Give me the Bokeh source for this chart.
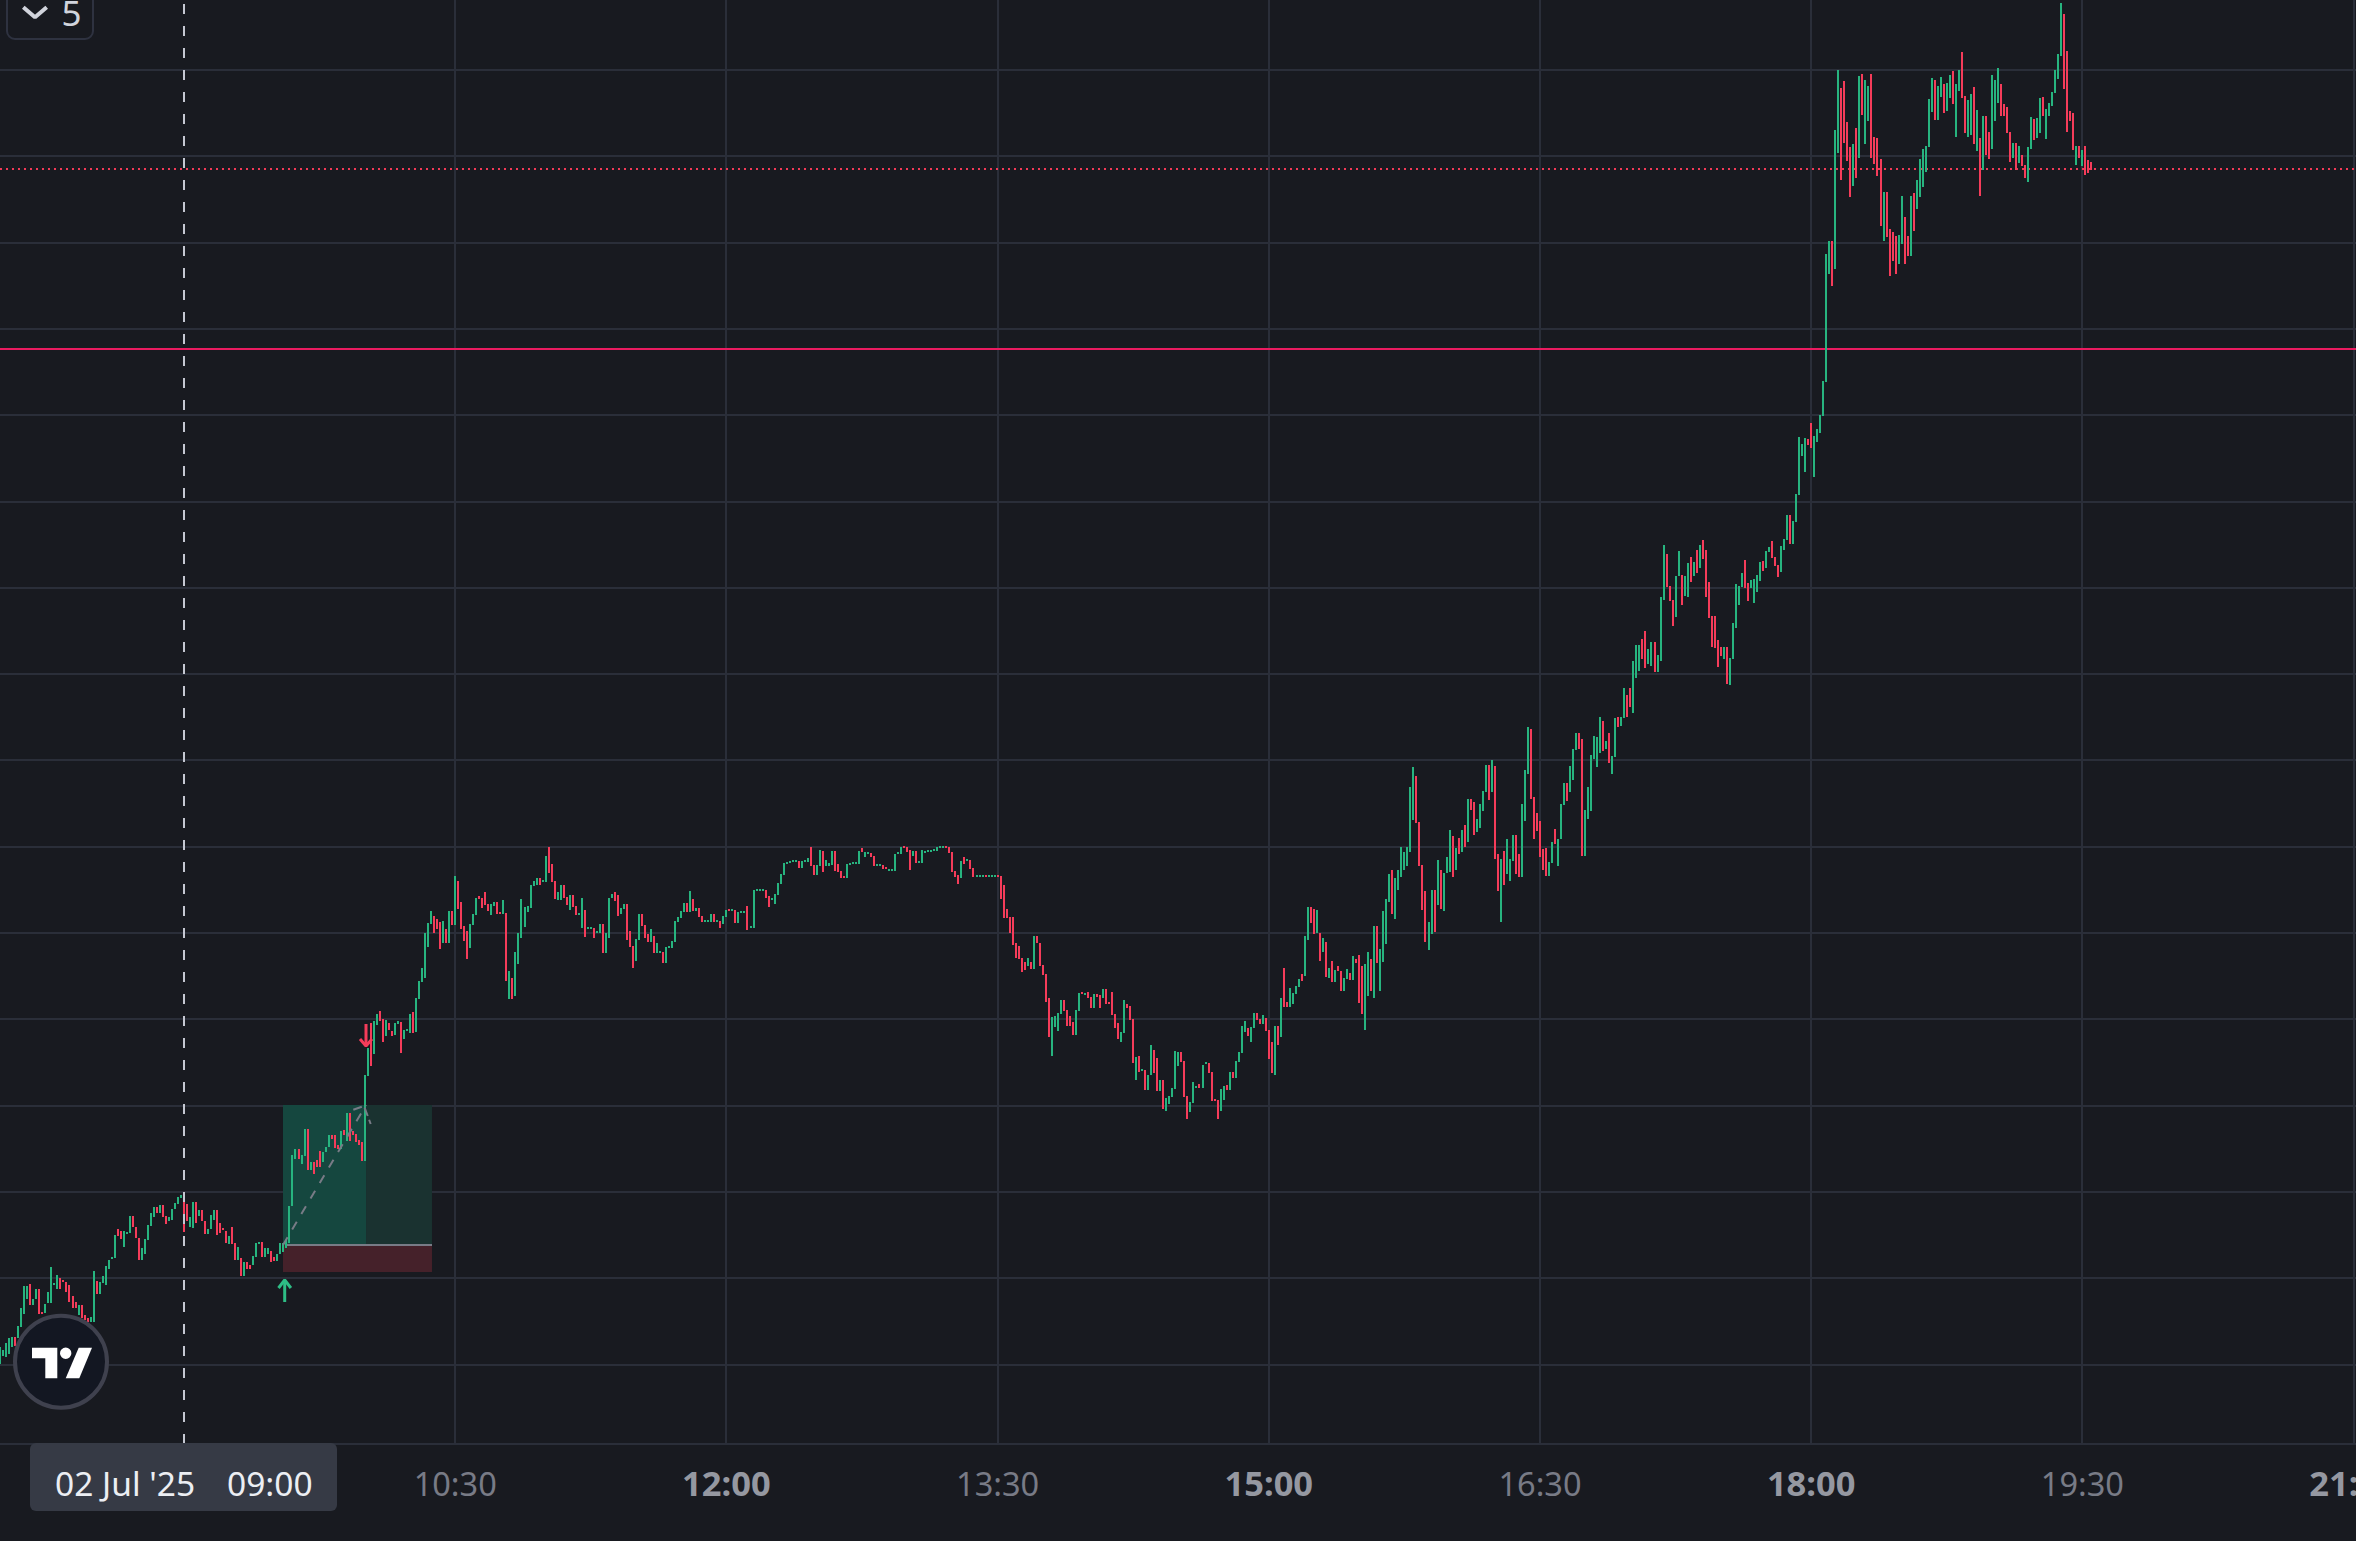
from bokeh.plotting import figure
from bokeh.models import LinearAxis, FixedTicker, Range1d, ColumnDataSource
from bokeh.core.properties import value
from bokeh.embed import file_html
from bokeh.resources import INLINE

# One bar per minute, (open, close), first bar at 07:59, on the chart's own price scale
first_minute = 479
bars_early = [(81,98),(89,95),(88,102),(91,107),(98,108),(108,99),(107,119),(118,137),(131,159),(146,159),
(161,140),(140,146),(146,156),(156,131),(133,131),(132,141),(142,153),(142,178),(160,162),(156,170),
(167,156),(165,163),(163,153),(160,143),(149,137),(143,137),(130,140),(140,127),(130,125),(127,123),
(123,128),(123,174),(164,151),(151,163),(162,169),(160,179),(176,185)]
bars_morning = [(185.5,188),(187,210),(215.6,208.7),(214,206),(198,214),(211,213),(212,229),(229,218),(218,207),(207,185),
(185,197),(191,206),(205,220),(219,232),(228,238),(238,232),(232,240),(240,228),(229,221),(224,228),
(225,236),(236,242),(241,248),(247,250),(249,213),(241,224),(218,228),(217,243),(243,222),(229,235),
(235,224),(224,211),(211,216),(216,230),(225,235),(235,210),(222,212),(217,215),(214,202),(201,209),
(218,201),(202,185),(185,198),(187,169),(169,183),(183,176),(180,176),(180,189),(188,202),(201,203),
(203,188),(188,197),(191,197),(194,183),(188,184),(184,191),(191,202),(193,202),(197,205),(202,239),
(239,290),(286,296),(296,286),(281,290),(289,316),(316,275),(275,283),(283,271),(285,278),(294,278),
(283,293),(293,298),(298,310),(310,306),(310,297),(300,296),(296,314),(315,310),(304,332),(332,304),
(314,310),(311,303),(305,300),(303,284),(284,370),(369,397),(422,379),(391,424),(420,431),(434,424),
(426,403),(409,425),(422,415),(414,409),(410,422),(421,424)]
bars_midday = [(423,392),(406,415),(414,416),(412,431),(433,412),(413,447),(446,464),(463,477),(467,512),(498,522),
(521,534),(529,512),(526,516),(523,496),(502,524),(516,502),(502,534),(534,520),(520,569),(564,536),
(543,516),(519,504),(514,486),(497,521),(520,531),(530,547),(549,546),(547,537),(553,540),(541,534),
(530,541),(539,543),(543,531),(533,531),(531,545),(532,464),(446,474),(467,446),(449,493),(481,512),
(507,546),(518,538),(533,539),(537,560),(559,564),(560,567),(567,560),(563,565),(563,589),(598,572),
(581,563),(564,546),(545,553),(545,560),(560,547),(548,540),(535,550),(550,538),(539,530),(530,532),
(517,547),(535,508),(516,518),(516,518),(517,507),(512,514),(512,521),(521,492),(492,512),(507,547),
(547,551),(553,544),(550,529),(531,537),(536,541),(541,505),(514,498),(499,477),(484,506),(505,531),
(531,519),(520,507),(511,503),(503,516),(509,492),(492,502),(492,494),(493,482),(482,498),(497,499),
(497,504),(503,524),(523,528),(527,534),(533,542),(542,533),(533,554),(546,534),(534,537),(537,528),
(529,523),(523,525),(523,525),(523,531),(531,523),(523,525),(524,517),(521,529),(528,535),(536,534),
(534,536),(535,522),(522,533),(532,534),(532,534),(539,515),(517,519),(517,555),(554,556),(554,556),
(554,556),(555,547),(549,538),(545,547),(541,551),(550,562),(561,571),(570,582),(581,583),(582,584),
(583,585),(583,585),(584,577),(577,584),(583,585),(583,587),(598,579),(580,570),(570,580),(579,595),
(594,573),(579,585),(579,582),(580,594),(594,574),(581,573),(574,567),(569,567),(567,581),(580,582),
(581,583),(581,583),(581,594),(597,593),(588,593),(591,593),(592,588),(589,579),(579,581),(579,581),
(580,576),(578,576),(574,576),(574,576),(574,591),(591,593),(591,598),(599,597),(598,593),(595,575),
(589,594),(594,582),(582,584),(582,595),(592,594),(593,595),(593,595),(594,596),(594,598),(597,599),
(597,599),(599,597),(598,592),(593,573),(574,568),(570,561),(567,584),(588,581),(584,586),(585,576),
(577,568),(568,570),(568,570),(568,570),(570,568),(568,570),(568,570),(568,570),(570,568)]
bars_afternoon = [(569,546),(560,527),(536,527),(528,512),(528,500),(502,487),(499,486),(487,473),(483,475),(479,487),
(483,476),(476,509),(509,502),(502,479),(480,470),(471,443),(447,408),(389,428),(418,429),(414,432),
(431,445),(445,434),(435,419),(429,419),(423,410),(410,435),(434,452),(453,451),(450,452),(453,447),
(448,437),(437,451),(451,448),(450,437),(447,456),(456,441),(443,441),(453,430),(431,417),(422,406),
(403,413),(412,445),(441,437),(439,425),(426,382),(365,388),(389,373),(374,376),(375,355),(355,370),
(370,400),(395,372),(387,354),(354,365),(365,336),(334,347),(341,349),(348,357),(356,394),(379,393),
(393,383),(384,348),(349,326),(333,343),(342,363),(357,359),(361,357),(357,380),(381,383),(382,372),
(373,344),(346,344),(345,326),(334,356),(345,359),(360,355),(355,373),(373,367),(367,384),(383,393),
(392,419),(413,424),(417,409),(403,418),(417,432),(432,425),(426,421),(421,430),(427,414),(415,386),
(403,372),(370,419),(419,400),(408,447),(477,438),(443,438),(438,457),(441,452),(451,459),(458,466),
(471,464),(469,509),(505,538),(538,522),(536,511),(512,535),(512,484),(493,507),(503,468),(467,477),
(484,463),(463,475),(479,474),(474,454),(454,467),(466,476),(472,465),(465,489),(486,482),(490,442),
(479,431),(415,481),(449,493),(486,454),(447,519),(519,482),(454,496),(483,534),(501,546),(543,571),
(575,531),(526,567),(555,575),(568,598),(575,593),(579,598)]
bars_rally = [(593,658),(625,678),(669,622),(623,579),(580,535),(554,503),(495,523),(511,555),(555,513),(540,585),
(575,536),(534,572),(572,588),(573,615),(609,568),(575,597),(607,591),(593,615),(620,598),(603,646),
(646,635),(643,610),(613,626),(617,641),(634,654),(653,680),(680,645),(653,685),(679,586),(591,554),
(523,586),(594,560),(571,606),(564,586),(584,610),(610,571),(591,568),(568,641),(624,675),(671,718),
(716,646),(648,606),(632,614),(624,588),(596,575),(597,569),(569,583),(582,603),(616,601),(579,606),
(606,641),(640,662),(662,644),(653,679),(665,696),(695,712),(712,696),(706,589),(589,635),(626,658),
(634,690),(686,709),(678,708),(692,728),(724,694),(696,704),(712,682),(671,689),(688,727),(728,718),
(719,728),(727,757),(750,728),(757,738),(732,784),(767,800),(774,800),(806,786),(814,777),(781,796),
(779,803),(803,773),(773,790),(784,848),(845,900),(891,858),(859,844),(845,819),(828,869),(869,894),
(870,840),(849,869),(848,882),(888,863),(869,883),(895,872),(877,900),(905,886),(895,848),(863,827),
(829,798),(829,797),(805,778),(798,789),(786,798),(798,761),(760,787),(786,822),(817,861),(840,859),
(858,872),(885,857),(862,844),(857,865),(842,866),(853,870),(864,883),(884,874),(877,894),(893,898),
(904,887),(888,879),(880,868),(873,899),(895,906),(905,930),(930,901),(901,924),
(923,951),(950,1008),(989,1001),(973,1007),(1006,1000),(1022,997),(968,1009),(1003,1016),(1012,1030),(1029,1064)]
bars_close = [(1063,1191),(1171,1204),(1204,1159),(1176,1315),(1292,1375),(1357,1265),(1364,1302),(1323,1284),(1298,1248),(1259,1301),
(1317,1267),(1287,1369),(1371,1330),(1301,1365),(1324,1359),(1371,1287),(1308,1281),(1307,1269),(1286,1219),(1204,1253),
(1253,1208),(1216,1169),(1213,1184),(1209,1171),(1181,1210),(1201,1249),(1228,1181),(1209,1189),(1189,1249),(1252,1214),
(1236,1265),(1248,1286),(1258,1296),(1273,1299),(1298,1346),(1333,1367),(1365,1325),(1325,1359),(1348,1368),(1361,1332),
(1334,1362),(1347,1370),(1374,1341),(1308,1361),(1354,1375),(1393,1347),(1349,1312),(1308,1345),(1310,1351),(1358,1301),
(1294,1335),(1307,1249),(1275,1329),(1329,1290),(1313,1286),(1296,1370),(1324,1365),(1342,1377),(1361,1329),(1341,1329),
(1338,1312),(1313,1283),(1287,1302),(1302,1275),(1282,1299),(1290,1279),(1280,1267),(1263,1298),(1296,1328),(1326,1305),
(1307,1327),(1312,1347),(1348,1329),(1306,1336),(1329,1342),(1339,1353),(1352,1375),(1366,1391),(1389,1442),(1431,1356),
(1394,1313),(1334,1324),(1332,1295),(1280,1299),(1299,1287),(1279,1295),(1299,1270),(1285,1272),(1283,1275)]

regular_ticks = [630, 810, 990, 1170]
regular_labels = ["10:30", "13:30", "16:30", "19:30"]
bold_ticks = [720, 900, 1080]
bold_labels = ["12:00", "15:00", "18:00"]
clipped_tick = 1260
clipped_label = "21:00"
price_grid = [80, 167, 253, 339, 426, 512, 598, 685, 771, 857, 943, 1030, 1116, 1202, 1289, 1375]

resistance_level = 1276
support_level = 1096
crosshair_minute = 540
trade_start, trade_now, trade_end = 572.85, 600.4, 622.3
trade_target, trade_entry, trade_stop = 340, 200, 173

BG = "#181a20"
GRID = "#2a2e39"
UP = "#27b47f"
DOWN = "#f53c5a"
W, H = 2356, 1541
AXIS_H = 96
PX_PER_MIN = 3.01333
x0 = crosshair_minute - 184 / PX_PER_MIN
x1 = x0 + W / PX_PER_MIN
top = H - AXIS_H

def fx(px):
    return x0 + px / PX_PER_MIN
def fy(py):
    return top - py
def snap(minute):
    return fx(round((minute - x0) * PX_PER_MIN))

all_bars = bars_early + bars_morning + bars_midday + bars_afternoon + bars_rally + bars_close
opens = [b[0] for b in all_bars]
closes = [b[1] for b in all_bars]
minutes = [first_minute + i for i in range(len(all_bars))]
assert len(all_bars) == 695, len(all_bars)

# canvas overhangs the page by 1px, and ranges absorb the half-pixel translate of the svg backend
p = figure(width=W + 1, height=H + 1, output_backend="svg", toolbar_location=None,
           x_range=Range1d(x0 - 0.5 / PX_PER_MIN, x1 + 0.5 / PX_PER_MIN), y_range=Range1d(-AXIS_H - 0.5, top + 0.5),
           x_axis_type=None, y_axis_type=None,
           min_border=0, min_border_left=0, min_border_right=0, min_border_top=0, min_border_bottom=0,
           background_fill_color=BG, border_fill_color=BG, outline_line_color=None)
p.styles = {"position": "absolute", "left": "-1px", "top": "-1px"}

ticks_all = regular_ticks + bold_ticks + [clipped_tick]
grid_x = [snap(t) for t in ticks_all]
# grid
p.segment(x0=grid_x, x1=grid_x, y0=[1] * len(grid_x), y1=[top + 1] * len(grid_x), line_color=GRID, line_width=2)
p.segment(x0=[x0] * len(price_grid), x1=[x1] * len(price_grid), y0=price_grid, y1=price_grid, line_color=GRID, line_width=2)
p.segment(x0=[x0], x1=[x1], y0=[1], y1=[1], line_color=GRID, line_width=2)

# position tool
p.quad(left=[trade_start], right=[trade_now], bottom=[trade_entry], top=[trade_target], fill_color="#15473f", line_color=None)
p.quad(left=[trade_now], right=[trade_end], bottom=[trade_entry], top=[trade_target], fill_color="#1a3230", line_color=None)
p.quad(left=[trade_start], right=[trade_end], bottom=[trade_stop], top=[trade_entry], fill_color="#45212a", line_color=None)
p.segment(x0=[trade_start + 1], x1=[trade_end], y0=[trade_entry], y1=[trade_entry], line_color="#787b86", line_width=2)

# levels
p.segment(x0=[x0], x1=[x1], y0=[resistance_level], y1=[resistance_level], line_color="#f23a57", line_width=2, line_dash="2 4")
p.segment(x0=[x0], x1=[x1], y0=[support_level], y1=[support_level], line_color="#ea1b60", line_width=2)

# candles, each snapped to a whole device pixel like the original canvas
bar_x = [snap(m) for m in minutes]
src = ColumnDataSource(dict(
    x=bar_x,
    hi=[round(max(o, c)) for o, c in zip(opens, closes)],
    lo=[round(min(o, c)) for o, c in zip(opens, closes)],
    col=[UP if c >= o else DOWN for o, c in zip(opens, closes)],
))
p.vbar(x="x", top="hi", bottom="lo", width=2 / PX_PER_MIN, fill_color="col", line_color=None, source=src)

# trade path
p.line([trade_start, trade_now], [trade_entry, trade_target], line_color="#787b86", line_width=2, line_dash="9 9")
p.line([fx(353.3), fx(364), fx(370.7)], [fy(1109.7), fy(1106), fy(1124)], line_color="#787b86", line_width=2, line_dash="9 4")

# entry / exit arrows
p.multi_line(xs=[[fx(284.7), fx(284.7)], [fx(278.5), fx(284.7), fx(290.9)]],
             ys=[[fy(1280), fy(1302)], [fy(1288), fy(1280), fy(1288)]], line_color="#2ebd85", line_width=3)
p.multi_line(xs=[[fx(366), fx(366)], [fx(360), fx(366), fx(372)]],
             ys=[[fy(1024), fy(1046)], [fy(1039), fy(1046), fy(1039)]], line_color=DOWN, line_width=3)

# crosshair
p.segment(x0=[crosshair_minute], x1=[crosshair_minute], y0=[1], y1=[top + 1], line_color="#c5c8d2", line_width=2, line_dash="10 12")

# logo
p.scatter(x=[fx(61)], y=[fy(1361.7)], size=92, marker="circle", fill_color="#131722", line_color="#3f414e", line_width=4)
p.patch(x=[fx(v) for v in (32, 57.3, 57.3, 45.3, 45.3, 32)], y=[fy(v) for v in (1347.7, 1347.7, 1378.3, 1378.3, 1358.3, 1358.3)], fill_color="#ffffff", line_color=None)
p.scatter(x=[fx(65.7)], y=[fy(1353.3)], size=11.4, marker="circle", fill_color="#ffffff", line_color=None)
p.patch(x=[fx(v) for v in (78.7, 92, 79.3, 65.7)], y=[fy(v) for v in (1347.7, 1347.7, 1378.3, 1378.3)], fill_color="#ffffff", line_color=None)

# interval widget
p.quad(left=[fx(7)], right=[fx(93)], bottom=[fy(39)], top=[fy(-12)], fill_color=BG, line_color="#2e3240", line_width=2, border_radius=8)
p.line([fx(23.3), fx(35), fx(46.7)], [fy(7.3), fy(17.3), fy(7.3)], line_color="#d1d4dc", line_width=4)
p.text(x=[fx(71.5)], y=[fy(13)], text=["5"], text_font=value("Noto Sans"), text_font_size="35px", text_color="#d1d4dc", text_align="center", text_baseline="middle")

# time axes
for ticks, labels, style, col, size, off in ((regular_ticks, regular_labels, "normal", "#787b86", "32.5px", 10), (bold_ticks, bold_labels, "bold", "#9598a1", "34.5px", 8)):
    ax = LinearAxis(ticker=FixedTicker(ticks=ticks), fixed_location=0,
                    major_label_overrides=dict(zip(ticks, labels)),
                    major_tick_line_color=None, minor_tick_line_color=None,
                    axis_line_color=None, major_label_standoff=off,
                    major_label_text_color=col, major_label_text_font="Noto Sans",
                    major_label_text_font_size=size, major_label_text_font_style=style)
    p.add_layout(ax, "below")
p.text(x=[clipped_tick], y=[fy(1482)], text=[clipped_label], text_font=value("Noto Sans"), text_font_style="bold", text_font_size="34.5px", text_color="#9598a1", text_align="center", text_baseline="middle")

# crosshair time label
p.quad(left=[fx(30)], right=[fx(337)], bottom=[fy(1511)], top=[fy(1443)], fill_color="#363a45", line_color=None, border_radius=6)
p.text(x=[fx(55)], y=[fy(1483)], text=["02 Jul '25"], text_font=value("Noto Sans"), text_font_size="33.5px", text_color="#eceef3", text_align="left", text_baseline="middle")
p.text(x=[fx(227)], y=[fy(1483)], text=["09:00"], text_font=value("Noto Sans"), text_font_size="33.5px", text_color="#eceef3", text_align="left", text_baseline="middle")

open("out.html", "w").write(file_html(p, INLINE))
